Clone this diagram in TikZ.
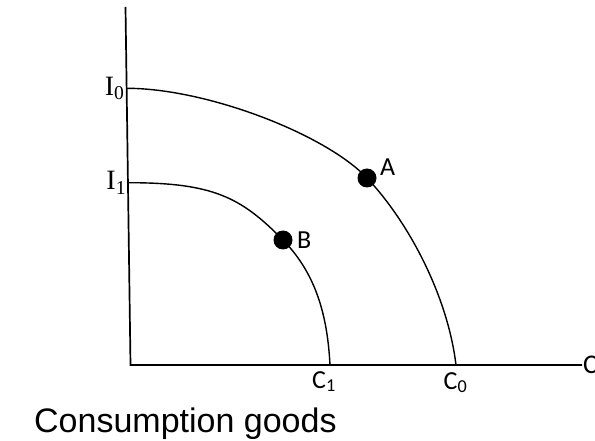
\documentclass[tikz,border=0pt]{standalone}
\usepackage{fontspec}
\setmainfont{Liberation Serif}
\newfontfamily\labfont{Carlito}
\newfontfamily\capfont{Liberation Sans}
\usetikzlibrary{positioning}
\tikzset{
  axisline/.style={line width=1.7pt},
  ppfline/.style={line width=1.4pt},
  pointdot/.style={circle,fill=black,inner sep=0pt,minimum size=19pt},
  sanslab/.style={font=\labfont\fontsize{26}{31}\selectfont,inner sep=0pt},
  seriflab/.style={font=\fontsize{28}{33}\selectfont,inner sep=2pt},
}
\begin{document}
\begin{tikzpicture}[x=1pt,y=-1pt]
  \useasboundingbox (0,0) rectangle (595,441);
  % axes
  \coordinate (top) at (125.5,7);
  \coordinate (O) at (130.5,365);
  \coordinate (xend) at (582,365);
  \draw[axisline] (top) -- (O) -- (xend);
  % outer frontier
  \coordinate (I0) at (126.7,88.3);
  \coordinate (C0) at (456,365);
  \coordinate (pA) at (367,178);
  \draw[ppfline] (I0) .. controls (206.7,88.3) and (325.6,134.2) .. (pA)
                      .. controls (408.4,221.8) and (447.6,295.5) .. (C0);
  % inner frontier
  \coordinate (I1) at (128.3,182.7);
  \coordinate (C1) at (330,365);
  \coordinate (pB) at (283,240);
  \draw[ppfline] (I1) .. controls (213.3,182.7) and (241,197.2) .. (pB)
                      .. controls (318,275.7) and (327.6,320) .. (C1);
  % points
  \node[pointdot] (A) at (pA) {};
  \node[pointdot] (B) at (pB) {};
  \node[sanslab,anchor=base west] (labA) at (380,176) {A};
  \node[sanslab,anchor=base west] (labB) at (297,248) {B};
  % labels
  \node[seriflab,left] (labI0) at (I0) {I\textsubscript{0}};
  \node[seriflab,left] (labI1) at (I1) {I\textsubscript{1}};
  \node[sanslab,anchor=base] (labC1) at (324,388) {C\textsubscript{1}};
  \node[sanslab,anchor=base] (labC0) at (455.5,389) {C\textsubscript{0}};
  \node[sanslab,anchor=base west,font=\labfont\fontsize{27}{32}\selectfont] (labC) at (583,373) {C};
  \node[anchor=base west,inner sep=0pt,font=\capfont\fontsize{34}{40}\selectfont] (xtitle) at (34,432) {Consumption goods};
\end{tikzpicture}
\end{document}
